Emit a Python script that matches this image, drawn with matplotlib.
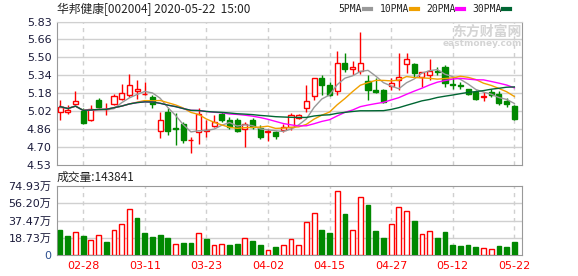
import numpy as np
import pandas as pd
import matplotlib
matplotlib.use("Agg")
import matplotlib.pyplot as plt
from matplotlib.lines import Line2D

plt.rcParams['font.family'] = ['DejaVu Sans', 'Noto Sans CJK SC']

dates = ["02-25", "02-26", "02-27", "02-28", "03-02", "03-03", "03-04", "03-05", "03-06", "03-09",
         "03-10", "03-11", "03-12", "03-13", "03-16", "03-17", "03-18", "03-19", "03-20", "03-23",
         "03-24", "03-25", "03-26", "03-27", "03-30", "03-31", "04-01", "04-02", "04-03", "04-07",
         "04-08", "04-09", "04-10", "04-13", "04-14", "04-15", "04-16", "04-17", "04-20", "04-21",
         "04-22", "04-23", "04-24", "04-27", "04-28", "04-29", "04-30", "05-06", "05-07", "05-08",
         "05-11", "05-12", "05-13", "05-14", "05-15", "05-18", "05-19", "05-20", "05-21", "05-22"]

opens = [5.011, 5.010, 5.083, 5.017, 4.942, 5.120, 5.035, 5.080, 5.127, 5.168,
         5.201, 5.170, 5.147, 4.840, 5.011, 4.865, 4.900, 4.755, 4.830, 4.840,
         4.888, 4.995, 4.935, 4.935, 4.858, 4.935, 4.870, 4.835, 4.830, 4.845,
         4.875, 4.955, 5.047, 5.156, 5.313, 5.257, 5.201, 5.452, 5.395, 5.382,
         5.287, 5.213, 5.205, 5.245, 5.302, 5.442, 5.442, 5.327, 5.345, 5.383,
         5.415, 5.262, 5.250, 5.214, 5.190, 5.145, 5.195, 5.175, 5.110, 5.062]
highs = [5.117, 5.070, 5.200, 5.050, 5.070, 5.140, 5.095, 5.170, 5.260, 5.350,
         5.297, 5.285, 5.165, 5.010, 5.047, 4.998, 4.920, 4.790, 5.050, 4.940,
         4.980, 5.010, 4.965, 4.955, 4.920, 4.960, 4.890, 4.860, 4.840, 4.905,
         5.005, 4.995, 5.252, 5.320, 5.343, 5.280, 5.560, 5.540, 5.470, 5.728,
         5.345, 5.320, 5.215, 5.320, 5.544, 5.544, 5.448, 5.370, 5.484, 5.420,
         5.430, 5.330, 5.280, 5.220, 5.210, 5.190, 5.220, 5.200, 5.140, 5.070]
lows = [4.942, 4.990, 5.078, 4.906, 4.930, 5.050, 4.985, 5.070, 5.115, 5.147,
        5.130, 5.160, 5.050, 4.780, 4.800, 4.710, 4.735, 4.640, 4.725, 4.790,
        4.880, 4.925, 4.860, 4.830, 4.700, 4.860, 4.770, 4.750, 4.770, 4.835,
        4.845, 4.945, 5.010, 5.120, 5.160, 5.155, 5.160, 5.375, 5.340, 5.355,
        5.123, 5.185, 5.090, 5.207, 5.207, 5.363, 5.330, 5.240, 5.297, 5.345,
        5.240, 5.214, 5.214, 5.160, 5.120, 5.110, 5.150, 5.070, 5.060, 4.940]
closes = [5.060, 5.025, 5.107, 4.912, 5.042, 5.060, 5.040, 5.153, 5.180, 5.258,
          5.216, 5.175, 5.085, 4.942, 4.840, 4.860, 4.760, 4.757, 4.997, 4.850,
          4.920, 4.935, 4.880, 4.840, 4.906, 4.880, 4.790, 4.838, 4.795, 4.880,
          4.980, 4.985, 5.108, 5.313, 5.255, 5.163, 5.448, 5.400, 5.420, 5.450,
          5.213, 5.190, 5.105, 5.270, 5.324, 5.484, 5.360, 5.368, 5.380, 5.375,
          5.270, 5.255, 5.245, 5.170, 5.130, 5.152, 5.160, 5.095, 5.085, 4.950]

volumes = [270000, 205000, 245000, 205000, 168000, 212000, 139000, 267000, 333000, 497000,
           402000, 238000, 194000, 216000, 183000, 124000, 128000, 128000, 234000, 172000,
           113000, 124000, 106000, 117000, 190000, 150000, 106000, 58000, 84000, 113000,
           179000, 106000, 355000, 453000, 270000, 238000, 694000, 446000, 267000, 629000,
           545000, 260000, 183000, 333000, 519000, 475000, 369000, 223000, 256000, 183000,
           249000, 106000, 95000, 106000, 84000, 80000, 69000, 95000, 84000, 143841]
# 1 = red (up vs previous close), 0 = green
vol_up = [0, 0, 1, 0, 1, 1, 0, 1, 1, 1,
          0, 0, 0, 0, 0, 1, 0, 0, 1, 0,
          1, 1, 0, 0, 1, 0, 0, 1, 0, 1,
          1, 1, 1, 1, 0, 0, 1, 0, 1, 1,
          0, 0, 0, 1, 1, 1, 0, 1, 1, 0,
          0, 0, 0, 0, 0, 1, 1, 0, 0, 0]

tick_dates = ["02-28", "03-11", "03-23", "04-02", "04-15", "04-27", "05-12", "05-22"]
price_labels = ["4.53", "4.70", "4.86", "5.02", "5.18", "5.34", "5.50", "5.66", "5.83"]
vol_labels = ["0", "18.73万", "37.47万", "56.20万", "74.93万"]
ma_periods = [5, 10, 20, 30]
ma_colors = ["#999999", "#f0a000", "#ff00ff", "#006633"]

RED = "#ff0000"
GREEN = "#008800"
GRID = "#d0d0d0"
FRAME = "#999999"

x = np.arange(len(closes))
close_s = pd.Series(closes)

fig = plt.figure(figsize=(5.78, 2.76), dpi=100)
ax = fig.add_axes([57 / 578, 1 - 165 / 276, 465 / 578, 143.5 / 276])
axv = fig.add_axes([57 / 578, 1 - 255 / 276, 465 / 578, 69 / 276])

tick_idx = [dates.index(d) for d in tick_dates]

# price panel
ax.set_xlim(-0.4, 60)
ax.set_ylim(4.534, 5.826)
pticks = np.linspace(4.534, 5.826, 9)
ax.set_yticks(pticks)
ax.set_yticklabels(price_labels, fontsize=8, color="#1a1a3a")
ax.set_xticks([])
for t in pticks[1:]:
    ax.axhline(t, color=GRID, lw=1, zorder=0)
for i in tick_idx:
    ax.axvline(i, color=GRID, lw=1, ls=(0, (3, 3)), zorder=0)

w = 0.66
for i in x:
    o, h, l, c = opens[i], highs[i], lows[i], closes[i]
    up = c >= o
    col = RED if up else GREEN
    lo_b, hi_b = min(o, c), max(o, c)
    ax.vlines(i, l, lo_b, color=col, lw=1, zorder=2)
    ax.vlines(i, hi_b, h, color=col, lw=1, zorder=2)
    ax.bar(i, max(hi_b - lo_b, 0.002), bottom=lo_b, width=w,
           facecolor="white" if up else GREEN, edgecolor=col, lw=1, zorder=3)

for p, col in zip(ma_periods, ma_colors):
    ma = close_s.rolling(p, min_periods=1).mean()
    ax.plot(x, ma, color=col, lw=1, zorder=4)

for s in ["left", "bottom", "right"]:
    ax.spines[s].set_color(FRAME)
ax.spines["top"].set_color(GRID)
ax.tick_params(axis="y", length=0, pad=4)

# volume panel
axv.set_xlim(-0.4, 60)
axv.set_ylim(0, 749300)
vticks = np.linspace(0, 749300, 5)
axv.set_yticks(vticks)
axv.set_yticklabels(vol_labels, fontsize=8, color="#1a1a3a")
axv.get_yticklabels()[0].set_color("#2a4d8f")
for t in vticks[1:4]:
    axv.axhline(t, color=GRID, lw=1, zorder=0)
for i in tick_idx:
    axv.axvline(i, color=GRID, lw=1, ls=(0, (3, 3)), zorder=0)
for i in x:
    if vol_up[i]:
        axv.bar(i, volumes[i], width=0.62, facecolor="white", edgecolor=RED, lw=1, zorder=3)
    else:
        axv.bar(i, volumes[i], width=0.62, facecolor=GREEN, edgecolor=GREEN, lw=1, zorder=3)
axv.set_xticks(tick_idx)
axv.set_xticklabels(tick_dates, fontsize=8, color=RED)
axv.tick_params(axis="x", length=0, pad=4)
axv.tick_params(axis="y", length=0, pad=4)
for s in axv.spines.values():
    s.set_color(FRAME)

# texts
fig.text(57 / 578, 1 - 9 / 276, "华邦健康[002004] 2020-05-22  15:00", fontsize=8.5,
         family=["Noto Sans CJK SC", "DejaVu Sans"], color="#222222", va="center", ha="left")
fig.text(57 / 578, 1 - 177 / 276, "成交量:143841", fontsize=8.5,
         family=["Noto Sans CJK SC", "DejaVu Sans"], color="#222222", va="center", ha="left")

# legend: text then short thick dash right after it
renderer = fig.canvas.get_renderer()
leg_x = [338, 380, 426, 472]
for lx, p, col in zip(leg_x, ma_periods, ma_colors):
    t = fig.text(lx / 578, 1 - 9 / 276, f"{p}PMA", fontsize=7, family="DejaVu Sans Mono",
                 color="#222222", va="center", ha="left")
    end = t.get_window_extent(renderer).x1
    dx = end + 2
    fig.add_artist(Line2D([dx / 578, (dx + 7) / 578], [1 - 9 / 276, 1 - 9 / 276],
                          color=col, lw=3, transform=fig.transFigure))

# watermark
fig.text(522 / 578, 1 - 32 / 276, "东方财富网", fontsize=10, fontweight="bold",
         family=["Noto Sans CJK SC"], color="#d4d4d4", ha="right", va="center", zorder=1)
fig.text(522 / 578, 1 - 43 / 276, "eastmoney.com", fontsize=6.5, fontweight="bold",
         color="#d4d4d4", ha="right", va="center", zorder=1)

fig.savefig("out.png", dpi=100)
